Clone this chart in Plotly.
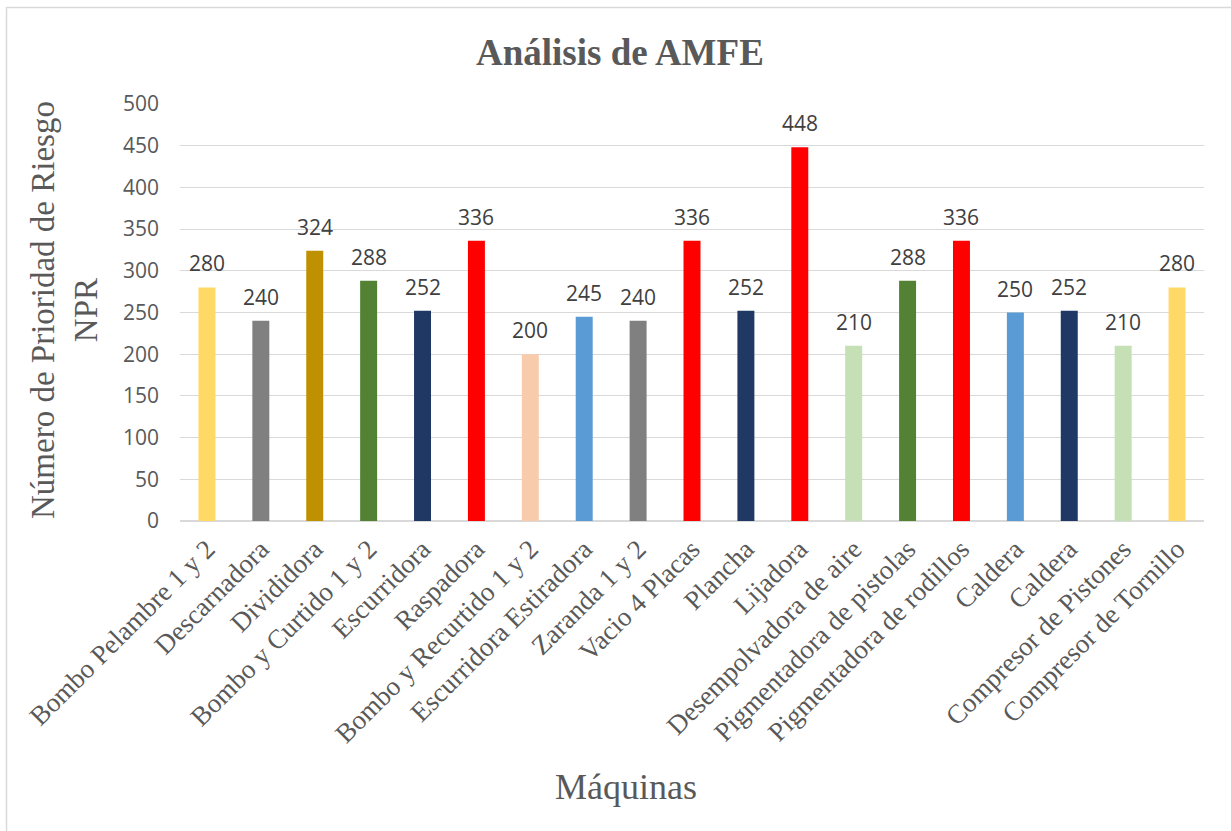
import plotly.graph_objects as go

categories = ["Bombo Pelambre 1 y 2", "Descarnadora", "Divididora", "Bombo y Curtido 1 y 2",
              "Escurridora", "Raspadora", "Bombo y Recurtido 1 y 2", "Escurridora Estiradora",
              "Zaranda 1 y 2", "Vacio 4 Placas", "Plancha", "Lijadora", "Desempolvadora de aire",
              "Pigmentadora de pistolas", "Pigmentadora de rodillos", "Caldera", "Caldera",
              "Compresor de Pistones", "Compresor de Tornillo"]
npr_values = [280, 240, 324, 288, 252, 336, 200, 245, 240, 336, 252, 448, 210, 288, 336, 250, 252, 210, 280]
bar_colors = ["#FFD966", "#808080", "#BF9000", "#548235", "#203864", "#FF0000", "#F8CBAD", "#5B9BD5",
              "#808080", "#FF0000", "#203864", "#FF0000", "#C5E0B4", "#548235", "#FF0000", "#5B9BD5",
              "#203864", "#C5E0B4", "#FFD966"]
y_ticks = [0, 50, 100, 150, 200, 250, 300, 350, 400, 450, 500]

positions = list(range(len(categories)))

L, R, T, B = 180, 27, 104, 310
W, H = 1231, 831
pw, ph = W - L - R, H - T - B

def px(x):
    return (x - L) / pw

def py(y):
    return (H - B - y) / ph

fig = go.Figure(go.Bar(
    x=positions, y=npr_values,
    marker=dict(color=bar_colors, line=dict(width=0)),
    width=0.315,
    hoverinfo="skip",
))

label_annotations = [
    dict(x=xv, y=v, xref="x", yref="y", text=str(v), showarrow=False,
         xanchor="center", yanchor="middle", yshift=24,
         font=dict(family="Open Sans", size=21, color="#404040"))
    for xv, v in zip(positions, npr_values)
]

fig.update_layout(
    width=W, height=H,
    margin=dict(l=L, r=R, t=T, b=B, autoexpand=False),
    paper_bgcolor="white", plot_bgcolor="white",
    showlegend=False,
    xaxis=dict(
        tickmode="array", tickvals=positions, ticktext=categories,
        range=[-0.5, len(categories) - 0.5],
        tickangle=-45,
        tickfont=dict(family="Liberation Serif", size=27, color="#595959"),
        showgrid=False, zeroline=False, showline=False, ticks="",
        ticklabelstandoff=6,
    ),
    yaxis=dict(
        range=[0, 500], tickmode="array", tickvals=y_ticks,
        tickfont=dict(family="Open Sans", size=21, color="#595959"),
        showgrid=True, gridcolor="#D9D9D9", gridwidth=1.3,
        zeroline=True, zerolinecolor="#D9D9D9", zerolinewidth=2,
        showline=False, ticks="", ticklabelstandoff=20,
    ),
    annotations=label_annotations + [
        dict(text="<b>Análisis de AMFE</b>", x=px(620), y=py(52), xref="paper", yref="paper",
             showarrow=False, xanchor="center", yanchor="middle",
             font=dict(family="Liberation Serif", size=37, color="#595959")),
        dict(text="Número de Prioridad de Riesgo<br>NPR", x=px(64), y=py(310), xref="paper", yref="paper",
             showarrow=False, xanchor="center", yanchor="middle", textangle=-90,
             font=dict(family="Liberation Serif", size=33, color="#595959")),
        dict(text="Máquinas", x=px(626), y=py(787), xref="paper", yref="paper",
             showarrow=False, xanchor="center", yanchor="middle",
             font=dict(family="Liberation Serif", size=36, color="#595959")),
    ],
    shapes=[
        dict(type="rect", xref="paper", yref="paper",
             x0=px(6.5), x1=px(1260), y0=py(860), y1=py(7.5),
             line=dict(color="#D9D9D9", width=1.5), fillcolor="rgba(0,0,0,0)", layer="below"),
    ],
)

fig.write_html("out.html")
